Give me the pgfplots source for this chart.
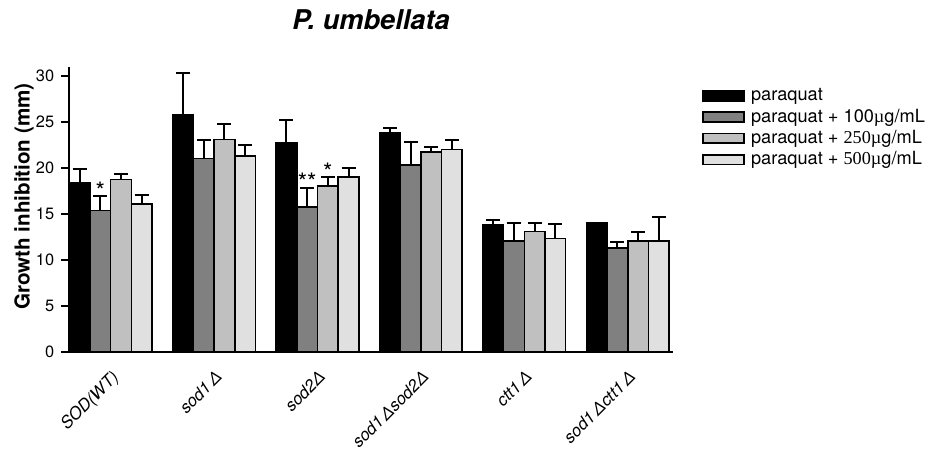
\documentclass[border=0pt]{standalone}
\usepackage{fontspec}
\setmainfont{TeX Gyre Heros}
\newfontfamily\serifnum{Liberation Serif}
\usepackage{pgfplots}
\pgfplotsset{compat=1.18}
\definecolor{gA}{HTML}{808080}
\definecolor{gB}{HTML}{C0C0C0}
\definecolor{gC}{HTML}{E0E0E0}
\begin{document}
\begin{tikzpicture}
\begin{axis}[
  scale only axis, width=301.7pt, height=142.6pt,
  xmin=-0.4, xmax=5.435, ymin=0, ymax=31,
  axis x line*=bottom, axis y line*=left,
  axis line style={line width=1pt, black},
  ybar, bar width=0.2,
  xtick={0,...,5},
  xticklabels={SOD(WT), sod1\,Δ, sod2Δ, sod1\,Δsod2Δ, ctt1\,Δ, sod1\,Δctt1\,Δ},
  x tick style={draw=none},
  xticklabel style={rotate=45, anchor=north east, font=\fontsize{8.4}{10}\selectfont\itshape},
  ytick={0,5,...,30},
  tick align=outside, major tick length=4pt,
  y tick style={line width=0.8pt, black},
  yticklabel style={font=\fontsize{8.2}{10}\selectfont},
  /pgf/number format/assume math mode=true,
  clip=false,
  legend style={draw=none, fill=none, at={(rel axis cs:1.0486,0.9316)}, anchor=north west,
    font=\fontsize{9.1}{10.5}\selectfont, inner sep=0pt, row sep=0.6pt, nodes={inner sep=1pt}},
  legend cell align=left,
  legend image code/.code={\draw[#1, line width=0.8pt] (0pt,-2.4pt) rectangle (20.5pt,2.4pt); \path (22.5pt,0pt);},
  every axis plot/.append style={draw=black, line width=0.8pt},
  error bars/y dir=plus, error bars/y explicit,
  error bars/error bar style={line width=1pt, black},
  error bars/error mark options={rotate=90, line width=1pt, black, mark size=3.5pt},
]
\addplot[fill=black, bar shift=-0.3] coordinates {
  (0,18.40) +- (0,1.45)
  (1,25.76) +- (0,4.54)
  (2,22.76) +- (0,2.44)
  (3,23.77) +- (0,0.53)
  (4,13.77) +- (0,0.51)
  (5,14.02) +- (0,0.00)
};
\addplot[fill=gA, bar shift=-0.1] coordinates {
  (0,15.33) +- (0,1.57)
  (1,21.00) +- (0,2.00)
  (2,15.70) +- (0,2.10)
  (3,20.30) +- (0,2.50)
  (4,12.03) +- (0,1.97)
  (5,11.30) +- (0,0.60)
};
\addplot[fill=gB, bar shift=0.1] coordinates {
  (0,18.70) +- (0,0.60)
  (1,23.05) +- (0,1.70)
  (2,18.00) +- (0,1.00)
  (3,21.74) +- (0,0.56)
  (4,13.05) +- (0,0.95)
  (5,12.03) +- (0,1.01)
};
\addplot[fill=gC, bar shift=0.3] coordinates {
  (0,16.05) +- (0,0.95)
  (1,21.30) +- (0,1.17)
  (2,19.00) +- (0,1.00)
  (3,22.00) +- (0,1.00)
  (4,12.32) +- (0,1.53)
  (5,12.03) +- (0,2.61)
};
\legend{paraquat, paraquat + 100{\serifnum µ}g/mL, paraquat + {\serifnum 250µ}g/mL, paraquat + {\serifnum 500µ}g/mL}
\node[anchor=base, font=\fontsize{12}{14}\selectfont] at (axis cs:-0.1,16.6) {*};
\node[anchor=base, font=\fontsize{12}{14}\selectfont] at (axis cs:1.9,17.5) {**};
\node[anchor=base, font=\fontsize{12}{14}\selectfont] at (axis cs:2.1,18.6) {*};
\node[anchor=base, font=\fontsize{13.6}{15}\selectfont\bfseries\itshape] at (rel axis cs:0.5,1.1304) {P. umbellata};
\node[rotate=90, font=\fontsize{10.3}{12}\selectfont\bfseries] at (rel axis cs:-0.0751,0.544) {Growth inhibition (mm)};
\path (rel axis cs:-0.1148,-0.3482) rectangle (rel axis cs:1.4297,1.2332);
\end{axis}
\end{tikzpicture}
\end{document}
